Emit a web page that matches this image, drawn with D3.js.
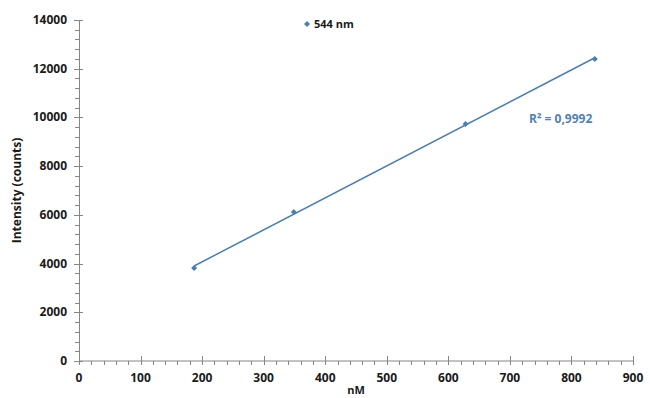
<!DOCTYPE html>
<html>
<head>
<script src="https://d3js.org/d3.v7.min.js"></script>
<style type="text/css">
body { margin:0; background:#fff; }
text { font-family: "Open Sans", sans-serif; font-weight: 700; }
</style>
</head>
<body>
<svg id="chart"></svg>
<script>
// data
var conc = [187, 349, 628, 838];
var intensity = [3820, 6120, 9730, 12400];
var seriesName = "544 nm";
var rSquared = "R\u00b2 = 0,9992";
var xTicks = [0, 100, 200, 300, 400, 500, 600, 700, 800, 900];
var yTicks = [0, 2000, 4000, 6000, 8000, 10000, 12000, 14000];

var width = 650, height = 398;
var margin = {left: 79, right: 17, top: 20, bottom: 37};

var svg = d3.select("#chart")
  .attr("width", width)
  .attr("height", height);

var x = d3.scaleLinear().domain([0, 900]).range([margin.left, width - margin.right]);
var y = d3.scaleLinear().domain([0, 14000]).range([height - margin.bottom, margin.top]);

var axisColor = "#868686";
var textColor = "#1a1a1a";

// minor ticks
var xMinor = d3.range(0, 901, 20).filter(function(d){ return d % 100 !== 0; });
var yMinor = d3.range(0, 14001, 400).filter(function(d){ return d % 2000 !== 0; });

var gx = svg.append("g");
gx.append("line")
  .attr("x1", x(0)).attr("x2", x(900))
  .attr("y1", y(0)).attr("y2", y(0))
  .attr("stroke", axisColor);
gx.selectAll(".major").data(xTicks).enter().append("line")
  .attr("x1", function(d){ return Math.round(x(d)) + 0.5; })
  .attr("x2", function(d){ return Math.round(x(d)) + 0.5; })
  .attr("y1", y(0) - 5).attr("y2", y(0) + 4)
  .attr("stroke", axisColor);
gx.selectAll(".minor").data(xMinor).enter().append("line")
  .attr("x1", function(d){ return Math.round(x(d)) + 0.5; })
  .attr("x2", function(d){ return Math.round(x(d)) + 0.5; })
  .attr("y1", y(0)).attr("y2", y(0) + 4)
  .attr("stroke", axisColor);
gx.selectAll("text").data(xTicks).enter().append("text")
  .attr("x", function(d){ return x(d); })
  .attr("y", y(0) + 21)
  .attr("text-anchor", "middle")
  .attr("font-size", "12px")
  .attr("fill", textColor)
  .text(function(d){ return d; });

var gy = svg.append("g");
gy.append("line")
  .attr("x1", x(0) + 0.5).attr("x2", x(0) + 0.5)
  .attr("y1", y(0)).attr("y2", y(14000))
  .attr("stroke", axisColor);
gy.selectAll(".major").data(yTicks).enter().append("line")
  .attr("x1", x(0) - 5).attr("x2", x(0) + 4)
  .attr("y1", function(d){ return Math.round(y(d)) + 0.5; })
  .attr("y2", function(d){ return Math.round(y(d)) + 0.5; })
  .attr("stroke", axisColor);
gy.selectAll(".minor").data(yMinor).enter().append("line")
  .attr("x1", x(0) - 4).attr("x2", x(0))
  .attr("y1", function(d){ return Math.round(y(d)) + 0.5; })
  .attr("y2", function(d){ return Math.round(y(d)) + 0.5; })
  .attr("stroke", axisColor);
gy.selectAll("text").data(yTicks).enter().append("text")
  .attr("x", x(0) - 12)
  .attr("y", function(d){ return y(d) + 4; })
  .attr("text-anchor", "end")
  .attr("font-size", "12px")
  .attr("fill", textColor)
  .text(function(d){ return d; });

// axis titles
svg.append("text")
  .attr("transform", "translate(21," + ((y(0) + y(14000)) / 2) + ") rotate(-90)")
  .attr("text-anchor", "middle")
  .attr("font-size", "12px")
  .attr("fill", textColor)
  .text("Intensity (counts)");
svg.append("text")
  .attr("x", 356)
  .attr("y", 394)
  .attr("text-anchor", "middle")
  .attr("font-size", "11px")
  .attr("fill", textColor)
  .text("nM");

// linear trendline (least squares over the points)
var mx = d3.mean(conc), my = d3.mean(intensity);
var sxy = d3.sum(conc, function(d, i){ return (d - mx) * (intensity[i] - my); });
var sxx = d3.sum(conc, function(d){ return (d - mx) * (d - mx); });
var slope = sxy / sxx, icpt = my - slope * mx;
var xMin = d3.min(conc), xMax = d3.max(conc);

var lineColor = "#4a7ebb";
svg.append("line")
  .attr("x1", x(xMin)).attr("y1", y(icpt + slope * xMin))
  .attr("x2", x(xMax)).attr("y2", y(icpt + slope * xMax))
  .attr("stroke", lineColor)
  .attr("stroke-width", 1.5);

// square diamond marker, like the spreadsheet one
var diamond = "M0,-3L3,0L0,3L-3,0Z";
svg.selectAll(".pt").data(conc).enter().append("path")
  .attr("d", diamond)
  .attr("transform", function(d, i){ return "translate(" + x(d) + "," + y(intensity[i]) + ")"; })
  .attr("fill", lineColor);

// legend
svg.append("path")
  .attr("d", diamond)
  .attr("transform", "translate(307,24)")
  .attr("fill", lineColor);
svg.append("text")
  .attr("x", 314)
  .attr("y", 28)
  .attr("font-size", "11px")
  .attr("fill", textColor)
  .text(seriesName);

svg.append("text")
  .attr("x", 529)
  .attr("y", 123)
  .attr("font-size", "12px")
  .attr("fill", "#4f81bd")
  .text(rSquared);
</script>
</body>
</html>
